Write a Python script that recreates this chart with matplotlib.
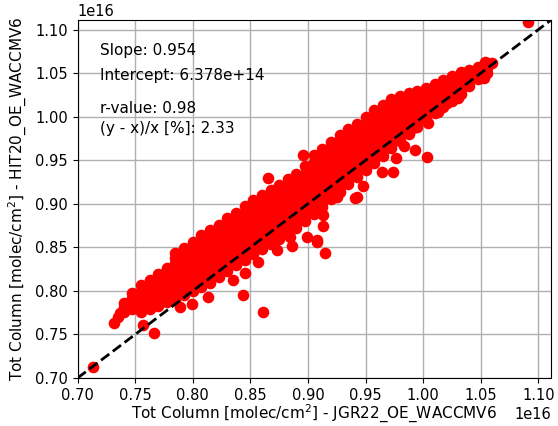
import matplotlib
matplotlib.use('Agg')
import matplotlib.pyplot as plt
import numpy as np

# total columns in units of 1e16 molec/cm2, grouped by JGR22 value
jgr22_cols = [0.740, 0.7475, 0.755, 0.7625, 0.770, 0.7775, 0.785, 0.7925,
              0.800, 0.8075, 0.815, 0.8225, 0.830, 0.8375, 0.845, 0.8525,
              0.860, 0.8675, 0.875, 0.8825, 0.890, 0.8975, 0.905, 0.9125,
              0.920, 0.9275, 0.935, 0.9425, 0.950, 0.9575, 0.965, 0.9725,
              0.980, 0.9875, 0.995, 1.0025, 1.010, 1.0175, 1.025, 1.0325,
              1.040, 1.0475, 1.055]
hit20_cols = [
    [0.776, 0.782, 0.786],
    [0.779, 0.785, 0.791, 0.798],
    [0.776, 0.782, 0.788, 0.794, 0.800, 0.807],
    [0.779, 0.785, 0.791, 0.797, 0.803, 0.809, 0.812],
    [0.783, 0.789, 0.795, 0.801, 0.807, 0.813, 0.819],
    [0.787, 0.793, 0.799, 0.805, 0.811, 0.817, 0.823, 0.826],
    [0.790, 0.796, 0.802, 0.808, 0.814, 0.820, 0.826, 0.832, 0.838, 0.843],
    [0.795, 0.801, 0.807, 0.813, 0.819, 0.825, 0.831, 0.837, 0.843, 0.849],
    [0.800, 0.806, 0.812, 0.818, 0.824, 0.830, 0.836, 0.842, 0.848, 0.854, 0.856],
    [0.804, 0.810, 0.816, 0.822, 0.828, 0.834, 0.840, 0.846, 0.852, 0.858, 0.864],
    [0.809, 0.815, 0.821, 0.827, 0.833, 0.839, 0.845, 0.851, 0.857, 0.863, 0.870],
    [0.816, 0.822, 0.828, 0.834, 0.840, 0.846, 0.852, 0.858, 0.864, 0.870, 0.876],
    [0.823, 0.829, 0.835, 0.841, 0.847, 0.853, 0.859, 0.865, 0.871, 0.877, 0.884],
    [0.830, 0.836, 0.842, 0.848, 0.854, 0.860, 0.866, 0.872, 0.878, 0.884, 0.889],
    [0.836, 0.842, 0.848, 0.854, 0.860, 0.866, 0.872, 0.878, 0.884, 0.890, 0.897],
    [0.842, 0.848, 0.854, 0.860, 0.866, 0.872, 0.878, 0.884, 0.890, 0.896, 0.904],
    [0.848, 0.854, 0.860, 0.866, 0.872, 0.878, 0.884, 0.890, 0.896, 0.902, 0.910],
    [0.854, 0.860, 0.866, 0.872, 0.878, 0.884, 0.890, 0.896, 0.902, 0.908, 0.916],
    [0.860, 0.866, 0.872, 0.878, 0.884, 0.890, 0.896, 0.902, 0.908, 0.914, 0.922],
    [0.866, 0.872, 0.878, 0.884, 0.890, 0.896, 0.902, 0.908, 0.914, 0.920, 0.928],
    [0.872, 0.878, 0.884, 0.890, 0.896, 0.902, 0.908, 0.914, 0.920, 0.926, 0.934],
    [0.880, 0.886, 0.892, 0.898, 0.904, 0.910, 0.916, 0.922, 0.928, 0.934, 0.943],
    [0.888, 0.894, 0.900, 0.906, 0.912, 0.918, 0.924, 0.930, 0.936, 0.942, 0.948, 0.956],
    [0.896, 0.902, 0.908, 0.914, 0.920, 0.926, 0.932, 0.938, 0.944, 0.950, 0.956, 0.963],
    [0.905, 0.911, 0.917, 0.923, 0.929, 0.935, 0.941, 0.947, 0.953, 0.959, 0.965, 0.971],
    [0.914, 0.920, 0.926, 0.932, 0.938, 0.944, 0.950, 0.956, 0.962, 0.968, 0.974, 0.979],
    [0.923, 0.929, 0.935, 0.941, 0.947, 0.953, 0.959, 0.965, 0.971, 0.977, 0.983, 0.986],
    [0.931, 0.937, 0.943, 0.949, 0.955, 0.961, 0.967, 0.973, 0.979, 0.985, 0.992],
    [0.939, 0.945, 0.951, 0.957, 0.963, 0.969, 0.975, 0.981, 0.987, 0.993, 1.000],
    [0.947, 0.953, 0.959, 0.965, 0.971, 0.977, 0.983, 0.989, 0.995, 1.001, 1.008],
    [0.955, 0.961, 0.967, 0.973, 0.979, 0.985, 0.991, 0.997, 1.003, 1.009, 1.014],
    [0.964, 0.970, 0.976, 0.982, 0.988, 0.994, 1.000, 1.006, 1.012, 1.018, 1.020],
    [0.972, 0.978, 0.984, 0.990, 0.996, 1.002, 1.008, 1.014, 1.020, 1.024],
    [0.980, 0.986, 0.992, 0.998, 1.004, 1.010, 1.016, 1.022, 1.027],
    [0.988, 0.994, 1.000, 1.006, 1.012, 1.018, 1.024, 1.030],
    [0.996, 1.002, 1.008, 1.014, 1.020, 1.026, 1.033],
    [1.004, 1.010, 1.016, 1.022, 1.028, 1.034, 1.038],
    [1.011, 1.017, 1.023, 1.029, 1.035, 1.042],
    [1.018, 1.024, 1.030, 1.036, 1.042, 1.047],
    [1.026, 1.032, 1.038, 1.044, 1.051],
    [1.035, 1.041, 1.047, 1.054],
    [1.043, 1.049, 1.057],
    [1.050, 1.056, 1.062],
]

# scattered retrievals off the main cloud
jgr22_extra = [0.713, 0.732, 0.735, 0.737, 0.747, 0.757, 0.766, 0.776,
               0.789, 0.799, 0.813, 0.844, 0.861, 0.835, 0.845, 0.857,
               0.873, 0.884, 0.886, 0.899, 0.908, 0.915, 0.913, 0.913,
               0.865, 0.896, 0.925, 0.943, 0.948, 0.964, 0.974, 0.976,
               0.983, 0.993, 1.003, 0.991, 1.004, 1.013, 1.021, 1.030,
               1.043, 1.053, 1.060, 1.054, 1.091, 0.908, 0.941]
hit20_extra = [0.713, 0.763, 0.770, 0.775, 0.792, 0.761, 0.752, 0.820,
               0.782, 0.785, 0.793, 0.795, 0.776, 0.813, 0.821, 0.833,
               0.847, 0.862, 0.851, 0.862, 0.856, 0.844, 0.875, 0.887,
               0.930, 0.956, 0.908, 0.908, 0.920, 0.936, 0.937, 0.953,
               0.966, 0.962, 0.954, 0.987, 0.993, 1.005, 1.016, 1.022,
               1.046, 1.045, 1.062, 1.063, 1.109, 0.859, 0.907]

stats_lines = ['Slope: 0.954', 'Intercept: 6.378e+14',
               'r-value: 0.98', '(y - x)/x [%]: 2.33']
stats_ypos = [0.916, 0.844, 0.754, 0.698]

x = []
y = []
for xc, ys in zip(jgr22_cols, hit20_cols):
    for yv in ys:
        x.append(xc)
        y.append(yv)
x = np.array(x + jgr22_extra) * 1e16
y = np.array(y + hit20_extra) * 1e16

lims = [0.70e16, 1.111e16]

fig = plt.figure(figsize=(5.58, 4.26), dpi=100)
ax = fig.add_subplot(111)
fig.subplots_adjust(left=0.139, right=0.9875, bottom=0.1127, top=0.953)

ax.scatter(x, y, s=70, color='red', linewidths=0, zorder=2)
ax.plot(lims, lims, 'k--', lw=2, zorder=3)
ax.set_xlim(lims)
ax.set_ylim(lims)
ax.grid(True, color='#b0b0b0', lw=1, zorder=0)
ax.set_axisbelow(True)
ax.tick_params(labelsize=10.5)
ax.xaxis.get_offset_text().set_fontsize(10.5)
ax.yaxis.get_offset_text().set_fontsize(10.5)

for txt, yp in zip(stats_lines, stats_ypos):
    ax.text(0.047, yp, txt, transform=ax.transAxes, va='center', fontsize=11)

ax.set_xlabel('Tot Column [molec/cm$^2$] - JGR22_OE_WACCMV6', fontsize=11,
              labelpad=0)
ax.set_ylabel('Tot Column [molec/cm$^2$] - HIT20_OE_WACCMV6', fontsize=11)

fig.savefig('out.png', dpi=100)
